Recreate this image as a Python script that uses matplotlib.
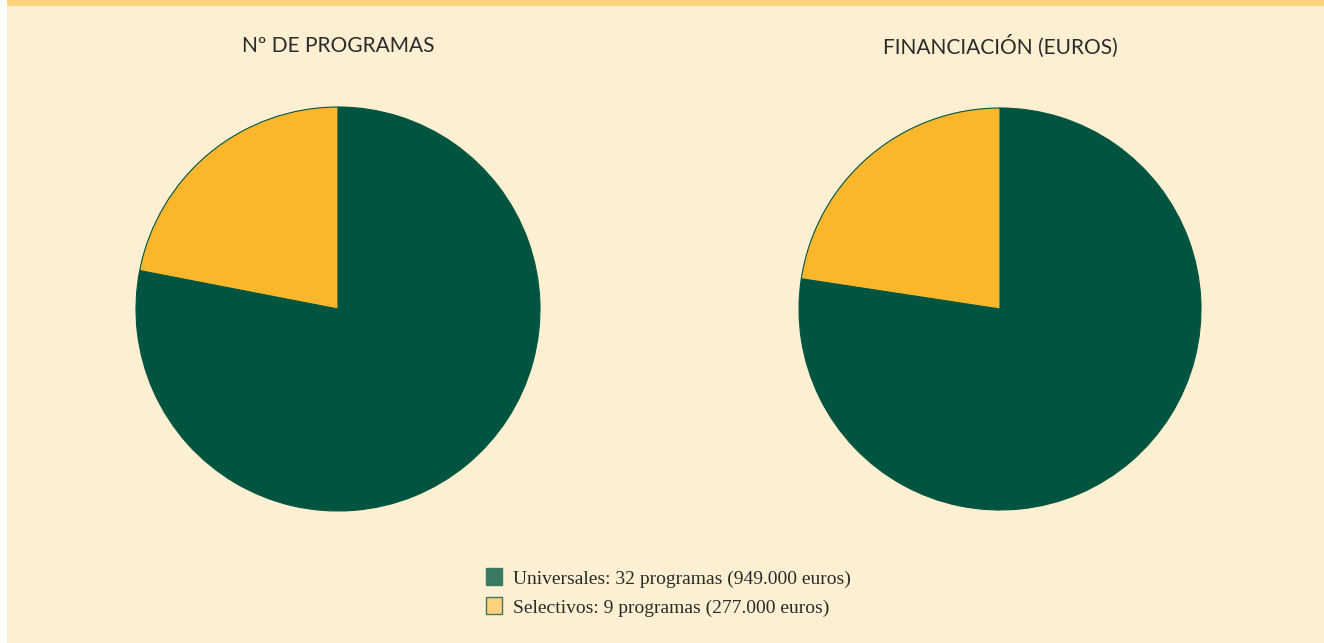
import matplotlib.pyplot as plt
from matplotlib.patches import Rectangle

# data
titles = ['Nº DE PROGRAMAS', 'FINANCIACIÓN (EUROS)']
labels = ['Universales: 32 programas (949.000 euros)',
          'Selectivos: 9 programas (277.000 euros)']
programas = [32, 9]
euros = [949000, 277000]

green = '#01543f'
yellow = '#fbb72c'
bg = '#fdefd1'
legend_colors = ['#3a7a62', '#fdd27a']

W, H = 1324, 643
fig = plt.figure(figsize=(W / 100, H / 100), dpi=100, facecolor='white')

# cream background with white strip on the left and orange bar on top
fig.patches.append(Rectangle((7 / W, 0), 1 - 7 / W, 1, transform=fig.transFigure,
                             facecolor=bg, edgecolor='none', zorder=-2))
fig.patches.append(Rectangle((7 / W, 1 - 6 / H), 1 - 7 / W, 6 / H, transform=fig.transFigure,
                             facecolor='#fdd27a', edgecolor='none', zorder=-1))


def draw_pie(cx, cy, r, values, title):
    ax = fig.add_axes([(cx - r) / W, 1 - (cy + r) / H, 2 * r / W, 2 * r / H])
    ax.pie(values, colors=[green, yellow], startangle=90, counterclock=False,
           wedgeprops=dict(edgecolor=green, linewidth=0.8))
    ax.set_xlim(-1.0, 1.0)
    ax.set_ylim(-1.0, 1.0)
    ax.axis('off')
    fig.text(cx / W, 1 - 46 / H, title, ha='center', va='center',
             fontsize=15, color='#2a2a2a', family='Lato')


draw_pie(338, 309, 202, programas, titles[0])
draw_pie(1000, 309, 201, euros, titles[1])

# legend drawn by hand
for i, (lab, col) in enumerate(zip(labels, legend_colors)):
    y = 568 + 29 * i
    fig.patches.append(Rectangle((486 / W, 1 - (y + 17) / H), 16 / W, 17 / H,
                                 transform=fig.transFigure, facecolor=col,
                                 edgecolor='#3a7a62', linewidth=1))
    fig.text(513 / W, 1 - (y + 11.5) / H, lab, ha='left', va='center',
             fontsize=14, family='Liberation Serif', color='#2a2a2a')

fig.savefig('out.png', dpi=100, facecolor=fig.get_facecolor())
